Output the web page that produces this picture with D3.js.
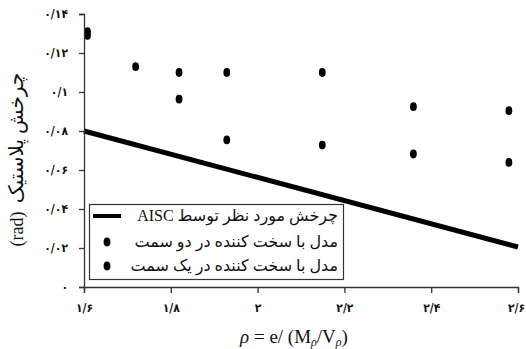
<!DOCTYPE html>
<html><head><meta charset="utf-8">
<script src="https://cdn.jsdelivr.net/npm/d3@7"></script>
<style>
body{margin:0;background:#fff;}
svg{display:block;}
</style></head>
<body>
<svg id="chart" width="526" height="349"></svg>
<script>
// ---- data ----
const xTicks = [1.6, 1.8, 2.0, 2.2, 2.4, 2.6];
const xTickLabels = ["۱/۶", "۱/۸", "۲", "۲/۲", "۲/۴", "۲/۶"];
const yTicks = [0, 0.02, 0.04, 0.06, 0.08, 0.10, 0.12, 0.14];
const yTickLabels = ["۰", "۰/۰۲", "۰/۰۴", "۰/۰۶", "۰/۰۸", "۰/۱", "۰/۱۲", "۰/۱۴"];

const aiscX = [1.6, 2.6];
const aiscY = [0.080, 0.0205];

const twoSideX = [1.608, 1.719, 1.819, 1.929, 2.149, 2.359, 2.579];
const twoSideY = [0.131, 0.113, 0.110, 0.110, 0.110, 0.0925, 0.0904];

const oneSideX = [1.608, 1.819, 1.929, 2.149, 2.359, 2.579];
const oneSideY = [0.129, 0.0963, 0.0754, 0.0728, 0.0682, 0.0639];

const legendLabels = [
  "چرخش مورد نظر توسط AISC",
  "مدل با سخت کننده در دو سمت",
  "مدل با سخت کننده در یک سمت"
];
const yLabelFa = "چرخش پلاستیک";
const yLabelUnit = "(rad)";

// ---- chart ----
const svg = d3.select("#chart");
const x = d3.scaleLinear().domain([1.6, 2.6]).range([84, 518]);
const y = d3.scaleLinear().domain([0, 0.14]).range([287, 14]);
const fontFam = "'Liberation Serif', 'DejaVu Sans', serif";
const ink = "#111";

// AISC line
const line = d3.line().x(d => x(d[0])).y(d => y(d[1]));
svg.append("path")
  .datum(aiscX.map((v, i) => [v, aiscY[i]]))
  .attr("d", line)
  .attr("fill", "none").attr("stroke", "#000").attr("stroke-width", 5);

// points
const pts = twoSideX.map((v, i) => [v, twoSideY[i]])
  .concat(oneSideX.map((v, i) => [v, oneSideY[i]]));
svg.append("g").selectAll("ellipse").data(pts).join("ellipse")
  .attr("cx", d => x(d[0])).attr("cy", d => y(d[1]))
  .attr("rx", 3.4).attr("ry", 4.4).attr("fill", "#000");

// axes
const gx = svg.append("g").attr("transform", "translate(0,287)")
  .call(d3.axisBottom(x).tickValues(xTicks).tickFormat((d, i) => xTickLabels[i])
    .tickSizeOuter(0).tickSize(6).tickPadding(10));
const gy = svg.append("g").attr("transform", "translate(84,0)")
  .call(d3.axisLeft(y).tickValues(yTicks).tickFormat((d, i) => yTickLabels[i])
    .tickSizeOuter(0).tickSize(5).tickPadding(11));
[gx, gy].forEach(g => {
  g.select(".domain").attr("stroke", "#333").attr("stroke-width", 1.3);
  g.selectAll(".tick line").attr("stroke", "#333").attr("stroke-width", 1.3);
  g.selectAll(".tick text").attr("font-family", "'DejaVu Sans Condensed', 'DejaVu Sans', sans-serif")
    .attr("font-size", 12).attr("font-weight", "bold").attr("fill", ink);
});
gx.selectAll(".tick text").filter((d, i) => i === xTicks.length - 1).attr("dx", -2);

// x label
const xl = svg.append("text").attr("x", 294).attr("y", 343)
  .attr("text-anchor", "middle").attr("font-family", "'Liberation Serif', serif")
  .attr("font-size", 19).attr("fill", ink);
xl.append("tspan").attr("font-style", "italic").text("ρ");
xl.append("tspan").text(" = e/ (M");
xl.append("tspan").attr("font-style", "italic").attr("font-size", 12).attr("dy", 3).text("ρ");
xl.append("tspan").attr("dy", -3).text("/V");
xl.append("tspan").attr("font-style", "italic").attr("font-size", 12).attr("dy", 3).text("ρ");
xl.append("tspan").attr("dy", -3).text(")");

// y label
svg.append("text").attr("transform", "translate(23,138) rotate(-90)")
  .attr("text-anchor", "middle").attr("direction", "rtl")
  .attr("font-family", fontFam).attr("font-size", 20).attr("fill", ink)
  .text(yLabelFa);
svg.append("text").attr("transform", "translate(23,229) rotate(-90)")
  .attr("text-anchor", "middle")
  .attr("font-family", "'Liberation Serif', serif").attr("font-size", 18).attr("fill", ink)
  .text(yLabelUnit);

// legend
const lg = svg.append("g");
lg.append("rect").attr("x", 89.5).attr("y", 204.5).attr("width", 254).attr("height", 75)
  .attr("fill", "#fff").attr("stroke", "#333").attr("stroke-width", 1.2);
const rowY = [216, 242, 266];
lg.append("line").attr("x1", 93).attr("x2", 121).attr("y1", rowY[0]).attr("y2", rowY[0])
  .attr("stroke", "#000").attr("stroke-width", 4);
[1, 2].forEach(i => lg.append("ellipse").attr("cx", 107).attr("cy", rowY[i])
  .attr("rx", 3.4).attr("ry", 4.4).attr("fill", "#000"));
legendLabels.forEach((t, i) => {
  lg.append("text").attr("x", 338).attr("y", rowY[i] + 5)
    .attr("direction", "rtl").attr("text-anchor", "start")
    .attr("font-family", fontFam).attr("font-size", 16).attr("fill", ink).text(t);
});
</script>
</body></html>
